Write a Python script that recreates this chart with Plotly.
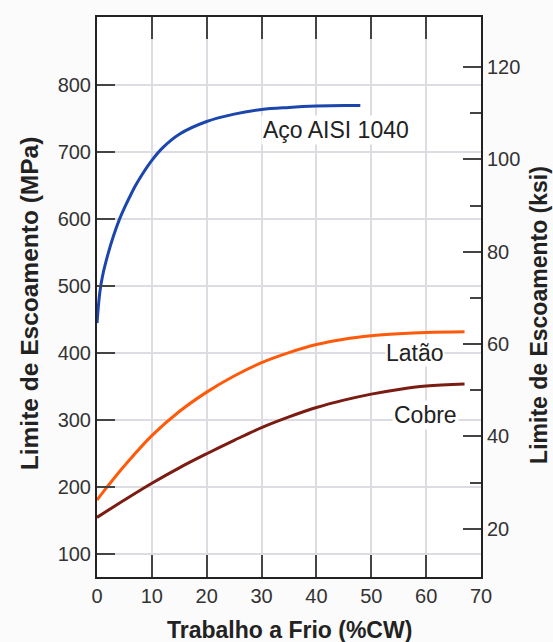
import plotly.graph_objects as go

# Data
steel_x = [0, 0.5, 1, 2, 3, 4, 5, 6, 7, 8, 10, 12, 15, 20, 25, 30, 35, 40, 45, 48]
steel_y = [445, 490, 515, 548, 575, 598, 617, 634, 650, 664, 688, 707, 727, 746, 757, 764, 767, 769, 770, 770]

brass_x = [0, 2, 5, 10, 15, 20, 25, 30, 35, 40, 45, 50, 55, 60, 67]
brass_y = [181, 202, 232, 277, 313, 342, 366, 386, 401, 413, 421, 426, 429, 431, 432]

copper_x = [0, 5, 10, 15, 20, 25, 30, 35, 40, 45, 50, 55, 60, 67]
copper_y = [155, 181, 206, 229, 250, 270, 289, 305, 319, 330, 339, 346, 351, 354]

x_ticks = [0, 10, 20, 30, 40, 50, 60, 70]
mpa_ticks = [100, 200, 300, 400, 500, 600, 700, 800]
ksi_ticks = [20, 40, 60, 80, 100, 120]
ksi_minor = [30, 50, 70, 90, 110]

MPA_PER_KSI = 6.895
mpa_range = [66, 902]

font_family = "Liberation Sans, Arial, sans-serif"
axis_color = "#222222"
tick_color = "#444444"
text_color = "#222222"

fig = go.Figure()
fig.add_trace(go.Scatter(x=steel_x, y=steel_y, mode="lines",
                         line=dict(color="#1c46ad", width=3, shape="spline", smoothing=1),
                         name="Aço AISI 1040"))
fig.add_trace(go.Scatter(x=brass_x, y=brass_y, mode="lines",
                         line=dict(color="#ff5a0a", width=3, shape="spline", smoothing=1),
                         name="Latão"))
fig.add_trace(go.Scatter(x=copper_x, y=copper_y, mode="lines",
                         line=dict(color="#7a1c12", width=3, shape="spline", smoothing=1),
                         name="Cobre"))
# invisible trace to activate the right axis
fig.add_trace(go.Scatter(x=[0], y=[20], yaxis="y2", mode="markers", marker=dict(opacity=0),
                         showlegend=False, hoverinfo="skip"))

label_font = dict(family=font_family, size=23, color=text_color)
fig.add_annotation(x=43.5, y=733, text="Aço AISI 1040", showarrow=False, font=label_font, bgcolor="white")
fig.add_annotation(x=58.0, y=400, text="Latão", showarrow=False, font=label_font, bgcolor="white", borderpad=0)
fig.add_annotation(x=59.8, y=308, text="Cobre", showarrow=False, font=label_font, bgcolor="white")

# Axis titles
fig.add_annotation(xref="paper", yref="paper", x=0.5, y=-0.0946, yanchor="middle",
                   text="<b>Trabalho a Frio (%CW)</b>", showarrow=False,
                   font=dict(family=font_family, size=23, color=text_color))
fig.add_annotation(xref="paper", yref="paper", x=-0.177, y=0.489, xanchor="center", yanchor="middle",
                   text="<b>Limite de Escoamento (MPa)</b>", textangle=-90, showarrow=False,
                   font=dict(family=font_family, size=24.5, color=text_color))
fig.add_annotation(xref="paper", yref="paper", x=1.151, y=0.468, xanchor="center", yanchor="middle",
                   text="<b>Limite de Escoamento (ksi)</b>", textangle=-90, showarrow=False,
                   font=dict(family=font_family, size=23, color=text_color))

tickfont = dict(family=font_family, size=20, color="#333333")

fig.update_layout(
    width=553, height=642,
    margin=dict(l=97, r=72, t=17, b=65),
    paper_bgcolor="#fbfbfb",
    plot_bgcolor="white",
    showlegend=False,
    font=dict(family=font_family, color="#333333", size=20),
    xaxis=dict(
        range=[0, 70], tickvals=x_ticks, ticks="inside", ticklen=22, tickwidth=2, tickcolor=tick_color,
        showline=True, linecolor=axis_color, linewidth=2, mirror="ticks",
        showgrid=True, gridcolor="#dcdce2", gridwidth=1.5, zeroline=False,
        tickfont=tickfont, automargin=False,
    ),
    yaxis=dict(
        range=mpa_range, tickvals=mpa_ticks, ticks="inside", ticklen=18, tickwidth=2, tickcolor=tick_color,
        showline=True, linecolor=axis_color, linewidth=2,
        showgrid=True, gridcolor="#dcdce2", gridwidth=1.5, zeroline=False,
        tickfont=tickfont, automargin=False,
    ),
    yaxis2=dict(
        overlaying="y", side="right",
        range=[mpa_range[0] / MPA_PER_KSI, mpa_range[1] / MPA_PER_KSI],
        tickvals=ksi_ticks, ticks="inside", ticklen=18, tickwidth=2, tickcolor=tick_color,
        showline=True, linecolor=axis_color, linewidth=2, showgrid=False, zeroline=False,
        minor=dict(tickvals=ksi_minor, ticks="inside", ticklen=11, tickwidth=2, tickcolor=tick_color),
        tickfont=tickfont, automargin=False,
    ),
)

fig.write_html("out.html", config={"displayModeBar": False},
               post_script="document.body.style.margin='0px';document.body.style.overflow='hidden';")
